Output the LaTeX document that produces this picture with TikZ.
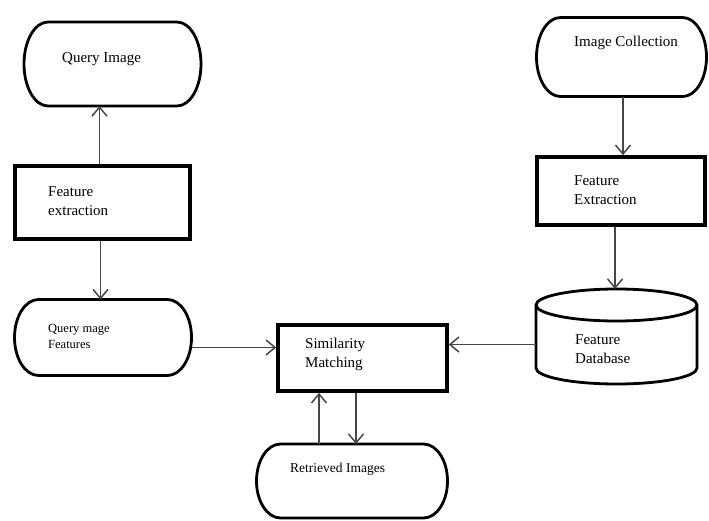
\documentclass[tikz,border=0pt]{standalone}
\usepackage{fontspec}
\setmainfont{Liberation Serif}
\usepackage{tikz}
\usetikzlibrary{arrows.meta}
\definecolor{linkgray}{RGB}{70,70,70}

% outline of a terminal box: straight top and bottom, half-ellipse ends
% #1 node name, #2 half height
\newcommand{\termbox}[2]{%
  \draw[line width=2.8pt] ([xshift=24pt]#1.north west) -- ([xshift=-24pt]#1.north east)
    arc[start angle=90,end angle=-90,x radius=24pt,y radius=#2pt]
    -- ([xshift=24pt]#1.south west)
    arc[start angle=270,end angle=90,x radius=24pt,y radius=#2pt] -- cycle;}

\begin{document}
\begin{tikzpicture}[x=1pt,y=-1pt,
    term/.style={rectangle,inner sep=0pt,outer sep=0pt},
    proc/.style={rectangle,draw,line width=3.6pt,inner sep=0pt},
    txt/.style={anchor=west,inner sep=0pt,align=left,font=\fontsize{15}{19}\selectfont},
    link/.style={-{Straight Barb[length=9pt,width=15pt]},linkgray,line width=1.5pt}]
    \useasboundingbox (0,0) rectangle (709,520);

    % left column
    \node[term,minimum width=177pt,minimum height=84pt] (qi) at (112.5,64) {};
    \termbox{qi}{42}
    \node[txt] (qi-t) at (62,59) {Query Image};

    \node[proc,minimum width=175pt,minimum height=73pt] (fe1) at (102.5,202.5) {};
    \node[txt] (fe1-t) at (48,201.5) {Feature\\extraction};

    \node[term,minimum width=177pt,minimum height=76pt] (qmf) at (103,337.5) {};
    \termbox{qmf}{38}
    \node[txt,font=\fontsize{12.5}{16}\selectfont] (qmf-t) at (48,336) {Query mage\\Features};

    % right column
    \node[term,minimum width=170pt,minimum height=79pt] (ic) at (621.5,57) {};
    \termbox{ic}{39.5}
    \node[txt] (ic-t) at (574,43) {Image Collection};

    \node[proc,minimum width=168pt,minimum height=68pt] (fe2) at (621,191) {};
    \node[txt] (fe2-t) at (574,190.5) {Feature\\Extraction};

    \node[inner sep=0pt,outer sep=0pt,minimum width=161pt,minimum height=95pt] (db) at (616.5,336.5) {};
    \draw[line width=2.8pt] ([yshift=-16pt]db.north west) -- ([yshift=16pt]db.south west)
        arc[start angle=180,end angle=360,x radius=80.5pt,y radius=16pt] -- ([yshift=-16pt]db.north east);
    \draw[line width=2.8pt] ([yshift=-16pt]db.north) ellipse[x radius=80.5pt,y radius=16pt];
    \node[txt] (db-t) at (575,349.5) {Feature\\Database};

    % middle
    \node[proc,minimum width=169pt,minimum height=66pt] (sm) at (362.5,358) {};
    \node[txt] (sm-t) at (305,354.5) {Similarity\\Matching};

    \node[term,minimum width=191pt,minimum height=74pt] (ri) at (352,481) {};
    \termbox{ri}{37}
    \node[txt,font=\fontsize{13.5}{17}\selectfont] (ri-t) at (290,469) {Retrieved Images};

    % connectors
    \draw[link] ([xshift=-3pt]fe1.north) -- ([xshift=-3pt]fe1.north |- qi.south);
    \draw[link] ([xshift=-2pt]fe1.south) -- ([xshift=-2pt]fe1.south |- qmf.north);
    \draw[link] ([yshift=-10pt]qmf.east) -- ([yshift=-10pt]qmf.east -| sm.west);
    \draw[link] ([xshift=1.5pt]ic.south) -- ([xshift=1.5pt]ic.south |- fe2.north);
    \draw[link] ([xshift=-6pt]fe2.south) -- ([xshift=-6pt]fe2.south |- db.north);
    \draw[link] ([yshift=-8pt]db.west) -- ([yshift=-8pt]db.west -| sm.east);
    \draw[link] ([xshift=-33pt]ri.north) -- ([xshift=-33pt]ri.north |- sm.south);
    \draw[link] ([xshift=-6.5pt]sm.south) -- ([xshift=-6.5pt]sm.south |- ri.north);
\end{tikzpicture}
\end{document}
